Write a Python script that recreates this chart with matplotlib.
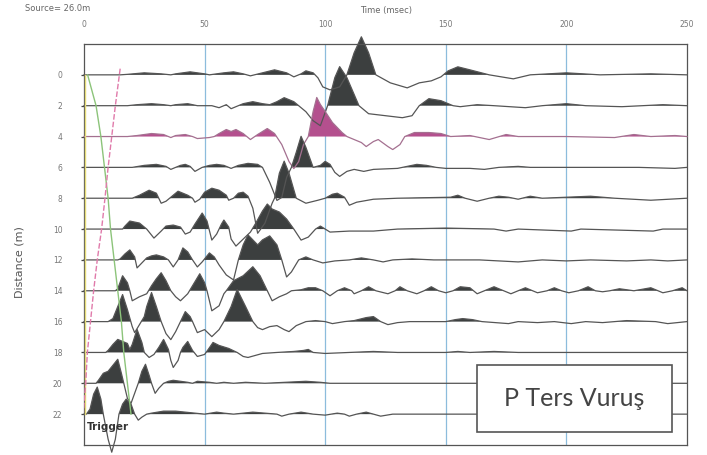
import matplotlib.pyplot as plt
from matplotlib.patches import Rectangle
import numpy as np

# trace data: (time ms, amplitude) pairs, positive = upward (filled)
tr0 = [(0, 0), (15, 0), (18, 0.5), (25, 2), (32, 1), (36, 0), (38, 1), (44, 3), (50, 1), (52, 0), (58, 2), (62, 3),
       (66, 1), (69, -1), (74, 2), (79, 5), (84, 2), (87, -2), (90, 1), (92, 4), (95, 2), (97, -3), (99, -12),
       (102, -15), (106, -12), (109, 0), (112, 22), (115, 38), (118, 22), (121, 0), (127, -8), (134, -13),
       (139, -8), (144, -6), (148, -2), (151, 4), (155, 8), (160, 5), (168, 0), (178, -4), (185, 0), (200, 2),
       (214, 0), (235, 1), (250, 0)]
tr2 = [(0, 0), (18, 0), (22, 1), (28, 2), (33, 1), (36, 0), (38, 1), (43, 2), (47, 0), (53, 0), (56, -2), (59, 1),
       (61, -3), (63, -1), (66, 2), (70, 4), (74, 2), (77, 1), (80, 4), (83, 8), (87, 4), (89, 0), (92, -6),
       (95, -15), (98, -20), (101, 0), (104, 28), (106, 39), (109, 28), (114, 0), (118, -8), (125, -10),
       (132, -12), (136, -10), (139, 0), (143, 7), (148, 5), (153, 0), (156, -1), (163, 1), (170, 0), (183, -2),
       (190, 0), (200, 2), (208, 0), (223, -1), (240, 1), (250, 0)]
tr4 = [(0, 0), (18, 0), (22, 1), (28, 3), (33, 2), (35, 0), (36, -1), (38, 1), (42, 2), (45, 0), (47, -2), (52, -1),
       (54, 0), (56, 3), (59, 7), (61, 5), (63, 7), (66, 3), (69, -3), (72, 2), (76, 8), (79, 3), (82, -8),
       (85, -25), (87, -32), (89, -25), (91, -8), (93, 0), (95, 25), (96.5, 39), (98, 32), (100, 25), (103, 14),
       (107, 4), (109, 0), (115, -6), (117, -10), (120, -5), (122, -3), (126, -10), (128, -13), (131, -8),
       (133, 0), (137, 4), (143, 4), (148, 3), (152, 0), (160, 1), (168, -3), (175, 2), (180, 0), (200, 0),
       (220, -1), (228, 2), (235, 0), (245, 1), (250, 0)]
tr6 = [(0, 0), (20, 0), (25, 2), (30, 3), (34, 1), (36, -2), (38, 0), (40, 2), (42, 3), (44, 1), (46, -4), (49, 0),
       (52, 2), (55, 3), (58, 2), (61, -1), (64, 2), (68, 4), (72, 3), (74, 0), (77, -15), (80, -33), (82, -30),
       (84, -10), (86, 0), (88, 15), (90, 31), (92, 20), (95, 0), (98, 2), (100, 6), (102, 3), (104, -5),
       (106, -9), (109, -4), (112, -2), (116, -4), (120, -2), (130, -1), (134, 1), (138, 3), (142, 2), (146, 0),
       (150, -1), (160, -1), (166, -2), (172, 0), (180, 1), (185, 0), (230, 0), (245, -1), (250, 0)]
tr8 = [(0, 0), (20, 0), (23, 3), (27, 8), (30, 5), (31, 0), (32, -5), (34, -3), (36, 1), (38, 5), (39, 7), (43, 3),
       (45, 0), (46, -4), (48, -1), (50, 6), (53, 10), (56, 8), (59, 3), (60, -2), (62, 0), (64, 5), (66, 6),
       (68, 2), (70, -10), (72, -35), (75, -25), (78, -5), (79, 0), (81, 25), (83, 37), (85, 25), (88, 0),
       (92, -5), (97, -2), (100, 0), (103, 4), (105, 5), (108, 1), (110, -7), (113, -4), (120, -1), (130, 0),
       (152, 1), (155, 3), (158, 0), (163, -3), (168, 0), (172, 2), (176, 1), (180, -1), (185, 2), (190, 0),
       (210, 2), (220, 0), (235, -2), (250, 0)]
tr10 = [(0, 0), (16, 0), (17, 3), (19, 8), (23, 6), (26, 0), (29, -9), (32, -2), (34, 3), (37, 4), (40, 2),
        (42, -5), (44, -3), (46, 5), (49, 16), (51, 8), (53, -11), (55, -5), (57, 5), (58, 9), (60, 2), (61, -10),
        (63, -17), (66, -10), (69, -3), (71, 5), (74, 18), (76, 25), (78, 20), (81, 17), (84, 10), (87, 0),
        (90, -11), (93, -8), (96, 0), (98, 3), (100, 0), (102, -3), (110, -2), (120, -2), (130, 0), (150, 1),
        (170, 0), (175, -2), (180, 0), (202, -2), (206, 0), (236, -2), (240, 0), (250, 0)]
tr12 = [(0, 0), (14, 0), (15, 1), (17, 6), (19, 10), (21, 3), (22, -8), (24, -3), (26, 2), (28, 4), (30, 5),
        (33, 3), (35, 0), (37, -7), (39, 0), (41, 12), (43, 8), (45, 0), (47, -7), (49, -2), (52, 7), (54, 3),
        (56, -5), (59, -15), (62, -20), (64, 0), (66, 15), (68, 25), (70, 20), (72, 15), (74, 20), (77, 24),
        (80, 15), (82, 0), (84, -17), (86, -12), (89, 0), (92, 3), (95, 0), (99, -3), (104, -1), (110, 0),
        (115, 2), (120, 0), (124, -2), (128, 0), (136, 1), (145, 0), (164, 0), (180, -2), (190, 0), (200, -1),
        (210, 0), (225, -1), (235, 0), (242, -1), (250, 0)]
tr14 = [(0, 0), (13, 0), (14, 2), (16, 15), (18, 8), (19, 0), (20, -10), (23, -6), (26, -3), (28, 5), (30, 12),
        (32, 18), (34, 10), (36, 0), (38, -6), (40, -10), (43, -3), (45, 5), (48, 17), (50, 8), (51, 0),
        (53, -20), (56, -15), (58, -3), (59, 0), (62, 10), (66, 15), (70, 24), (73, 15), (76, 0), (78, -10),
        (81, -6), (84, -3), (86, 0), (90, 1), (93, 3), (96, 3), (99, 0), (102, -5), (105, 0), (108, 3), (111, 0),
        (112, -3), (115, 0), (118, 4), (121, 0), (126, -3), (129, 0), (131, 4), (134, 0), (138, -3), (141, 0),
        (144, 4), (147, 0), (150, -2), (153, 0), (156, 4), (160, 3), (163, -3), (166, 0), (170, 4), (174, 0),
        (177, -3), (180, 0), (183, 3), (186, 0), (188, -2), (192, 0), (195, 3), (198, 0), (201, -2), (205, 0),
        (209, 4), (212, 0), (215, -1), (218, 0), (222, 2), (228, 0), (235, 3), (240, -2), (244, 0), (248, 3),
        (250, 0)]
tr16 = [(0, 0), (10, 0), (12, 3), (14, 15), (16, 27), (18, 12), (20, -5), (21, -11), (23, -3), (25, 5), (26, 15),
        (28, 29), (30, 15), (32, 0), (34, -12), (36, -18), (38, -10), (40, 0), (42, 10), (44, 5), (45, 0),
        (47, -11), (50, -8), (53, -15), (56, -8), (58, 0), (61, 15), (63.5, 32), (67, 15), (70, 0), (72, -6),
        (74, -8), (77, -5), (80, -4), (83, -8), (85, -10), (88, -4), (92, 0), (96, 1), (100, 0), (103, -2),
        (108, 0), (112, 1), (117, 4), (120, 5), (123, 0), (126, -3), (130, -1), (135, 0), (150, 0), (154, 2),
        (157, 3), (161, 2), (165, 0), (176, -2), (180, 0), (188, -1), (195, 0), (202, -2), (208, 0), (215, -1),
        (225, 1), (237, 0), (242, -2), (250, 0)]
tr18 = [(0, 0), (9, 0), (10, 2), (12, 8), (14, 13), (16, 11), (18, 9), (19, 3), (20, 8), (22, 23), (24, 10),
        (25, 0), (27, -5), (29, -2), (31, 5), (33, 13), (35, 3), (36, -8), (37, -15), (39, -8), (40, 0), (41, 5),
        (43, 11), (45, 2), (47, -4), (50, -2), (51.5, 3), (53.5, 10), (56, 7), (60, 4), (63.5, 0), (66, -4),
        (68, -5), (71, -3), (74, -1), (80, 0), (87, 1), (91, 2), (93, 3), (95, 0), (100, -1), (110, 0),
        (120, 1), (130, 0), (150, 0), (155, 1), (160, 0), (170, 1), (180, 0), (250, 0)]
tr20 = [(0, 0), (5, 0), (6, 3), (8, 10), (10, 12), (12, 18), (14, 24), (15.5, 10), (16.5, 0), (18, -15),
        (19.5, -20), (21, -10), (22.5, 0), (24, 12), (25.5, 19), (27, 8), (28, 0), (29.5, -10), (31, -5),
        (33, 0), (35, 2), (37, 3), (40, 2), (43, 1), (45, 0), (47, 2), (52, 1), (55, 0), (58, 1), (62, 0),
        (67, 1), (75, 0), (92, 2), (98, 1), (102, 0), (250, 0)]
tr22 = [(0, 0), (1, 0), (2.5, 5), (4, 20), (5.5, 27), (7, 15), (8, 0), (10, -25), (11.5, -38), (13, -25),
        (14.5, 0), (16, 10), (17.5, 15), (19.5, 10), (21, 0), (22.5, -6), (24, -3), (26, 0), (28, 1), (33, 3),
        (38, 3), (42, 2), (46, 1), (50, 0), (55, 2), (58, 1), (62, 0), (66, 1), (70, 2), (75, 1), (80, 0),
        (82, -2), (85, 0), (90, 2), (95, 0), (100, -1), (105, 1), (108, 0), (110, -2), (113, 0), (117, 2),
        (120, 0), (123, -2), (128, 0), (250, 0)]

traces = [tr0, tr2, tr4, tr6, tr8, tr10, tr12, tr14, tr16, tr18, tr20, tr22]
distances = [0, 2, 4, 6, 8, 10, 12, 14, 16, 18, 20, 22]
highlight = 4  # trace drawn in magenta

# picked travel-time lines
green_t = [1.5, 5, 7, 8.5, 10, 11, 12.5, 14, 15.5, 16.5, 18, 19.5]
green_d = [0, 2, 4, 6, 8, 10, 12, 14, 16, 18, 20, 22]
pink_t = [15, 13, 11.5, 10, 8.7, 7.3, 5.5, 4, 2.7, 1.4, 0.7, -0.3]
pink_d = [-0.4, 2, 4, 6, 8, 10, 12, 14, 16, 18, 20, 22]
yellow_t = [0.4, 0.4]
yellow_d = [0, 22]

time_ticks = [0, 50, 100, 150, 200, 250]
gain = 1 / 15.4

fig = plt.figure(figsize=(7.07, 4.55), dpi=100)
ax = fig.add_axes([0.1188, 0.022, 0.8529, 0.8813])

for t_line in [50, 100, 150, 200]:
    ax.axvline(t_line, color='#8cbcdc', lw=0.9, zorder=0.5)

for d, tr in zip(distances, traces):
    t, a = np.array(tr, dtype=float).T
    y = d - a * gain
    if d == highlight:
        fill_c, line_c = '#b4508e', '#a47090'
    else:
        fill_c, line_c = '#3c3f3f', '#555555'
    ax.fill_between(t, d, y, where=a > 0, interpolate=True, color=fill_c, lw=0, zorder=2, clip_on=False)
    ax.plot(t, y, color=line_c, lw=0.9, zorder=3, clip_on=False)

ax.plot(yellow_t, yellow_d, color='#e6dc78', lw=1.0, zorder=4)
ax.plot(green_t, green_d, color='#8cc47a', lw=1.0, zorder=4)
ax.plot(pink_t, pink_d, color='#e07aaa', lw=1.0, ls=(0, (4, 1.5)), zorder=4)

ax.set_xlim(0, 250)
ax.set_ylim(24, -2)
ax.xaxis.tick_top()
ax.set_xticks(time_ticks)
ax.set_xticklabels([str(v) for v in time_ticks])
ax.set_yticks(distances)
ax.set_yticklabels([str(v) for v in distances])
ax.tick_params(axis='x', length=0, pad=11, labelsize=5.5, labelcolor='#777777')
ax.tick_params(axis='y', length=2.5, width=0.9, color='#444444', pad=13, labelsize=5.5, labelcolor='#777777')
for s in ax.spines.values():
    s.set_color('#555555')
    s.set_linewidth(0.9)

fig.text(0.036, 0.992, 'Source= 26.0m', fontsize=6, color='#666666', va='top', ha='left')
fig.text(0.546, 0.987, 'Time (msec)', fontsize=6, color='#666666', va='top', ha='center')
fig.text(0.027, 0.425, 'Distance (m)', fontsize=8, color='#555555', rotation=90, va='center', ha='center')

ax.text(1.0, 22.85, 'Trigger', fontsize=7.5, fontweight='bold', color='#333333', va='center', ha='left', zorder=5)

ax.add_patch(Rectangle((0.652, 0.0324), 0.323, 0.167, transform=ax.transAxes, facecolor='white',
                       edgecolor='#555555', lw=1.2, zorder=6))
ax.text(0.8135, 0.116, 'P Ters Vuruş', transform=ax.transAxes, family=['Lato', 'DejaVu Sans'],
        fontsize=18, color='#444444', ha='center', va='center', zorder=7)

fig.savefig('out.png', dpi=100)
